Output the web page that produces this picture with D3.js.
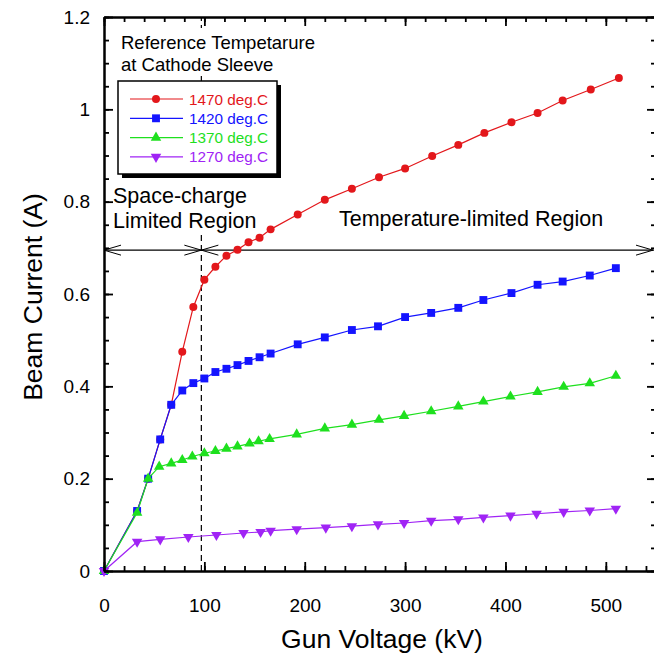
<!DOCTYPE html>
<html>
<head>
<meta charset="utf-8">
<script src="https://cdnjs.cloudflare.com/ajax/libs/d3/7.8.5/d3.min.js"></script>
<style>
  body { margin: 0; background: #fff; }
  svg { display: block; font-family: "Liberation Sans", Arial, Helvetica, sans-serif; }
</style>
</head>
<body>
<svg id="chart" width="654" height="661"></svg>
<script>
// data (kV, A)
const x1470 = [0, 33, 44, 56, 67, 78, 89, 100, 111, 122, 133, 144, 155, 166, 193, 220, 247, 274, 300, 327, 353, 379, 406, 432, 457, 485, 513];
const y1470 = [0, 0.13, 0.2, 0.285, 0.36, 0.475, 0.572, 0.631, 0.659, 0.683, 0.696, 0.712, 0.722, 0.740, 0.772, 0.804, 0.828, 0.853, 0.872, 0.899, 0.923, 0.949, 0.972, 0.992, 1.019, 1.043, 1.068];

const x1420 = [0, 33, 44, 56, 67, 78, 89, 100, 111, 122, 133, 144, 155, 166, 193, 220, 247, 273, 300, 326, 353, 378, 406, 432, 457, 484, 510];
const y1420 = [0, 0.13, 0.2, 0.285, 0.36, 0.391, 0.407, 0.417, 0.431, 0.438, 0.446, 0.455, 0.463, 0.471, 0.491, 0.506, 0.522, 0.530, 0.550, 0.559, 0.570, 0.587, 0.602, 0.620, 0.627, 0.640, 0.656];

const x1370 = [0, 33, 44, 55, 67, 78, 88, 100, 111, 122, 133, 145, 154, 165, 192, 220, 247, 274, 299, 326, 353, 378, 405, 432, 458, 484, 510];
const y1370 = [0, 0.126, 0.2, 0.226, 0.233, 0.2405, 0.248, 0.255, 0.260, 0.265, 0.270, 0.276, 0.281, 0.286, 0.296, 0.309, 0.317, 0.3275, 0.336, 0.346, 0.3565, 0.367, 0.378, 0.388, 0.399, 0.4065, 0.423];

const x1270 = [0, 33, 56, 84, 112, 139, 156, 166, 192, 221, 247, 273, 299, 326, 353, 378, 405, 431, 458, 484, 510];
const y1270 = [0, 0.0635, 0.0686, 0.0736, 0.078, 0.0823, 0.0845, 0.0873, 0.0905, 0.094, 0.097, 0.101, 0.104, 0.109, 0.112, 0.116, 0.12, 0.124, 0.128, 0.131, 0.135];

const seriesNames = ["1470 deg.C", "1420 deg.C", "1370 deg.C", "1270 deg.C"];
const xTicksMajor = [0, 100, 200, 300, 400, 500];
const yTicksMajor = [0, 0.2, 0.4, 0.6, 0.8, 1, 1.2];
const boundaryKV = 97;      // dashed line between regions
const boundaryA = 0.695;    // horizontal arrow level

let svg = d3.select("#chart");
let x = d3.scaleLinear().domain([0, 550]).range([104, 656]);
let y = d3.scaleLinear().domain([0, 1.2]).range([571, 17]);

let series = [
    {name: seriesNames[0], xs: x1470, ys: y1470, color: "#e3171b", symbol: d3.symbolCircle, size: 50, rot: 0},
    {name: seriesNames[1], xs: x1420, ys: y1420, color: "#1414ff", symbol: d3.symbolSquare, size: 62, rot: 0},
    {name: seriesNames[2], xs: x1370, ys: y1370, color: "#1ee01e", symbol: d3.symbolTriangle, size: 48, rot: 0},
    {name: seriesNames[3], xs: x1270, ys: y1270, color: "#a024f5", symbol: d3.symbolTriangle, size: 48, rot: 180}
];

// dashed boundary line
svg.append("line")
    .attr("x1", x(boundaryKV)).attr("x2", x(boundaryKV))
    .attr("y1", y(0)).attr("y2", y(1.2))
    .attr("stroke", "#000").attr("stroke-width", 1.2)
    .attr("stroke-dasharray", "6,4");

// white backgrounds for the text blocks
svg.append("rect").attr("x", 116).attr("y", 28).attr("width", 210).attr("height", 48).attr("fill", "#fff");
svg.append("rect").attr("x", 110).attr("y", 178).attr("width", 152).attr("height", 57).attr("fill", "#fff");

// region annotations
svg.append("text").attr("x", 121).attr("y", 49).attr("font-size", 18.5).text("Reference Tempetarure");
svg.append("text").attr("x", 121).attr("y", 71).attr("font-size", 18.5).text("at Cathode Sleeve");
svg.append("text").attr("x", 113).attr("y", 203).attr("font-size", 21.5).text("Space-charge");
svg.append("text").attr("x", 113).attr("y", 228).attr("font-size", 21.5).text("Limited Region");
svg.append("text").attr("x", 339).attr("y", 226).attr("font-size", 21.5).text("Temperature-limited Region");

// horizontal double arrows
let ay = y(boundaryA);
svg.append("line").attr("x1", x(0)).attr("x2", x(550)).attr("y1", ay).attr("y2", ay)
    .attr("stroke", "#000").attr("stroke-width", 1.2);
function arrowHead(tipX, dir) {
    // dir = -1 points left, +1 points right
    let p = d3.path();
    p.moveTo(tipX - dir * 17, ay - 5);
    p.lineTo(tipX, ay);
    p.lineTo(tipX - dir * 17, ay + 5);
    svg.append("path").attr("d", p.toString()).attr("fill", "none")
        .attr("stroke", "#000").attr("stroke-width", 1);
}
arrowHead(x(0), -1);
arrowHead(x(boundaryKV), 1);
arrowHead(x(boundaryKV), -1);
arrowHead(653, 1);

// series lines and markers
let plot = svg.append("g");
series.forEach(function(s) {
    let pts = s.xs.map(function(v, i) { return [v, s.ys[i]]; });
    let line = d3.line().x(function(d) { return x(d[0]); }).y(function(d) { return y(d[1]); });
    plot.append("path").datum(pts).attr("d", line)
        .attr("fill", "none").attr("stroke", s.color).attr("stroke-width", 1.2);
    plot.selectAll(null).data(pts).enter().append("path")
        .attr("d", d3.symbol().type(s.symbol).size(s.size))
        .attr("transform", function(d) { return "translate(" + x(d[0]) + "," + y(d[1]) + ") rotate(" + s.rot + ")"; })
        .attr("fill", s.color);
});

// legend with drop shadow
let lg = svg.append("g").attr("transform", "translate(118,81)");
lg.append("rect").attr("x", 4).attr("y", 4).attr("width", 159).attr("height", 93).attr("fill", "#000");
lg.append("rect").attr("width", 159).attr("height", 93).attr("fill", "#fff")
    .attr("stroke", "#000").attr("stroke-width", 1.5);
series.forEach(function(s, i) {
    let ry = 18 + i * 19.3;
    lg.append("line").attr("x1", 12).attr("x2", 65).attr("y1", ry).attr("y2", ry)
        .attr("stroke", s.color).attr("stroke-width", 1.2);
    lg.append("path").attr("d", d3.symbol().type(s.symbol).size(s.size))
        .attr("transform", "translate(38," + ry + ") rotate(" + s.rot + ")")
        .attr("fill", s.color);
    lg.append("text").attr("x", 71).attr("y", ry + 5.5).attr("font-size", 15.3)
        .attr("fill", s.color).text(s.name);
});

// axes: ticks point inward on all four sides
function styleAxis(g) {
    g.selectAll("path.domain").attr("stroke-width", 2);
    g.selectAll(".tick line").attr("stroke-width", 1.8);
    g.selectAll("text").attr("font-size", 19).attr("font-family", "Liberation Sans, Arial, sans-serif").attr("fill", "#000");
}
let minorX = d3.range(0, 560, 20);
let minorY = d3.range(0, 1.201, 0.05);

svg.append("g").attr("transform", "translate(0,571)")
    .call(d3.axisBottom(x).tickValues(minorX).tickSize(-5).tickFormat("").tickSizeOuter(0)).call(styleAxis);
svg.append("g").attr("transform", "translate(0,571)")
    .call(d3.axisBottom(x).tickValues(xTicksMajor).tickSize(-9).tickPadding(28).tickFormat(d3.format("d")).tickSizeOuter(0)).call(styleAxis);
svg.append("g").attr("transform", "translate(0,17)")
    .call(d3.axisTop(x).tickValues(minorX).tickSize(-5).tickFormat("").tickSizeOuter(0)).call(styleAxis);
svg.append("g").attr("transform", "translate(0,17)")
    .call(d3.axisTop(x).tickValues(xTicksMajor).tickSize(-9).tickFormat("").tickSizeOuter(0)).call(styleAxis);

svg.append("g").attr("transform", "translate(104,0)")
    .call(d3.axisLeft(y).tickValues(minorY).tickSize(-5).tickFormat("").tickSizeOuter(0)).call(styleAxis);
svg.append("g").attr("transform", "translate(104,0)")
    .call(d3.axisLeft(y).tickValues(yTicksMajor).tickSize(-9).tickPadding(14).tickFormat(d3.format("~g")).tickSizeOuter(0)).call(styleAxis);
svg.append("g").attr("transform", "translate(656,0)")
    .call(d3.axisRight(y).tickValues(minorY).tickSize(-5).tickFormat("").tickSizeOuter(0)).call(styleAxis);
svg.append("g").attr("transform", "translate(656,0)")
    .call(d3.axisRight(y).tickValues(yTicksMajor).tickSize(-9).tickFormat("").tickSizeOuter(0)).call(styleAxis);

// axis titles
svg.append("text").attr("x", 382).attr("y", 648).attr("text-anchor", "middle")
    .attr("font-size", 26.5).text("Gun Voltage (kV)");
svg.append("text").attr("transform", "translate(42,297) rotate(-90)").attr("text-anchor", "middle")
    .attr("font-size", 26.5).text("Beam Current (A)");
</script>
</body>
</html>
